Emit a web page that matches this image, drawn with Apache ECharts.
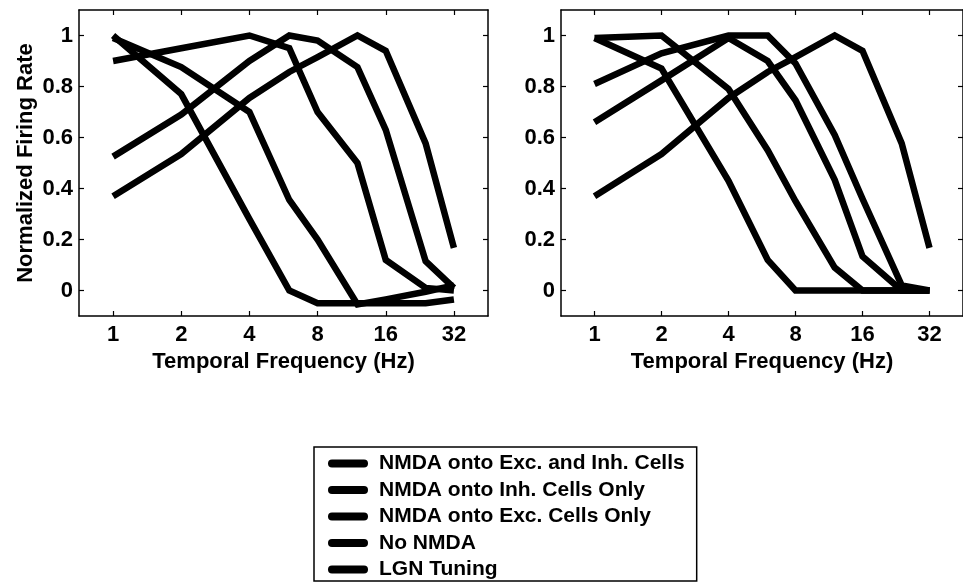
<!DOCTYPE html>
<html>
<head>
<meta charset="utf-8">
<script src="https://cdn.jsdelivr.net/npm/echarts@6/dist/echarts.min.js"></script>
<style>
  html, body { margin: 0; padding: 0; background: #fff; }
  #chart { width: 963px; height: 584px; }
</style>
</head>
<body>
<div id="chart"></div>
<script>
// Stimulus temporal frequencies (Hz) at which each tuning curve is sampled
const freqHz = [1, 2, 4, 6, 8, 12, 16, 24, 32];
const freqTicks = [1, 2, 4, 8, 16, 32];
const rateTicks = [0, 0.2, 0.4, 0.6, 0.8, 1];

const seriesNames = [
  'NMDA onto Exc. and Inh. Cells',
  'NMDA onto Inh. Cells Only',
  'NMDA onto Exc. Cells Only',
  'No NMDA',
  'LGN Tuning'
];

// Left panel: normalized firing rates
const leftExcInh = [1.0, 0.77, 0.28, 0.0, -0.05, -0.05, -0.05, -0.05, -0.035];
const leftInh    = [0.99, 0.876, 0.70, 0.355, 0.2, -0.055, -0.035, -0.005, 0.02];
const leftExc    = [0.9, 0.95, 1.0, 0.95, 0.70, 0.50, 0.12, 0.01, 0.0];
const leftNone   = [0.525, 0.69, 0.90, 1.0, 0.98, 0.876, 0.63, 0.115, 0.01];

// Right panel: normalized firing rates
const rightExcInh = [0.99, 0.87, 0.43, 0.12, 0.0, 0.0, 0.0, 0.0, 0.0];
const rightInh    = [0.99, 1.0, 0.79, 0.55, 0.35, 0.09, 0.0, 0.0, 0.0];
const rightExc    = [0.81, 0.93, 1.0, 1.0, 0.89, 0.61, 0.36, 0.02, 0.0];
const rightNone   = [0.66, 0.824, 0.99, 0.9, 0.746, 0.434, 0.134, 0.0, 0.0];

// LGN input tuning (same in both panels)
const lgnTuning = [0.37, 0.535, 0.755, 0.857, 0.915, 1.0, 0.94, 0.577, 0.167];

const FONT = "'Liberation Sans', Arial, Helvetica, sans-serif";
const octaveTicks = freqTicks.map(Math.log2);

const textBold = { color: '#000', fontSize: 22, fontWeight: 'bold', fontFamily: FONT };
const boxLine = { color: '#000', width: 1.5 };
const tickLine = { color: '#000', width: 1.2 };

function xAxisPair(gridIndex) {
  return [
    {
      type: 'value', gridIndex, position: 'bottom', min: -0.5, max: 5.5,
      axisLine: { onZero: false, lineStyle: boxLine },
      axisTick: { inside: true, length: 5, customValues: octaveTicks, lineStyle: tickLine },
      axisLabel: {
        customValues: octaveTicks, margin: 8,
        formatter: v => String(Math.round(Math.pow(2, v))),
        ...textBold
      },
      splitLine: { show: false },
      name: 'Temporal Frequency (Hz)', nameLocation: 'middle', nameGap: 25,
      nameTextStyle: textBold
    },
    {
      type: 'value', gridIndex, position: 'top', min: -0.5, max: 5.5,
      axisLine: { onZero: false, lineStyle: boxLine },
      axisTick: { inside: true, length: 5, customValues: octaveTicks, lineStyle: tickLine },
      axisLabel: { show: false },
      splitLine: { show: false }
    }
  ];
}

function yAxisPair(gridIndex, withLabels) {
  return [
    {
      type: 'value', gridIndex, position: 'left', min: -0.1, max: 1.1,
      axisLine: { onZero: false, lineStyle: boxLine },
      axisTick: { inside: true, length: 5, customValues: rateTicks, lineStyle: tickLine },
      axisLabel: {
        customValues: rateTicks, margin: 6,
        formatter: v => String(v),
        ...textBold
      },
      splitLine: { show: false },
      name: withLabels ? 'Normalized Firing Rate' : '',
      nameLocation: 'middle', nameGap: 42,
      nameTextStyle: textBold
    },
    {
      type: 'value', gridIndex, position: 'right', min: -0.1, max: 1.1,
      axisLine: { onZero: false, lineStyle: boxLine },
      axisTick: { inside: true, length: 5, customValues: rateTicks, lineStyle: tickLine },
      axisLabel: { show: false },
      splitLine: { show: false }
    }
  ];
}

function curve(name, values, xIdx, yIdx) {
  return {
    name, type: 'line',
    xAxisIndex: xIdx, yAxisIndex: yIdx,
    data: freqHz.map((f, i) => [Math.log2(f), values[i]]),
    showSymbol: false, symbol: 'none',
    lineStyle: { color: '#000', width: 6.5, cap: 'butt', join: 'miter' },
    itemStyle: { color: '#000' },
    animation: false
  };
}

const leftSets = [leftExcInh, leftInh, leftExc, leftNone, lgnTuning];
const rightSets = [rightExcInh, rightInh, rightExc, rightNone, lgnTuning];

const series = [
  ...leftSets.map((vals, i) => curve(seriesNames[i], vals, 0, 0)),
  ...rightSets.map((vals, i) => curve(seriesNames[i], vals, 2, 2))
];

const chart = echarts.init(document.getElementById('chart'), null, { renderer: 'canvas' });
chart.setOption({
  animation: false,
  backgroundColor: '#fff',
  grid: [
    { left: 79, top: 10, width: 409, height: 306 },
    { left: 561, top: 10, width: 410, height: 306 }
  ],
  xAxis: [...xAxisPair(0), ...xAxisPair(1)],
  yAxis: [...yAxisPair(0, true), ...yAxisPair(1, false)],
  legend: {
    orient: 'vertical', left: 314, top: 447, height: 160,
    data: seriesNames,
    icon: 'path://M4,0 H36 A4,4 0 0 1 36,8 H4 A4,4 0 0 1 4,0 Z',
    itemWidth: 40, itemHeight: 8, itemGap: 5.5,
    padding: [6, 12, 1, 14],
    borderColor: '#000', borderWidth: 1.5,
    itemStyle: { color: '#000' },
    textStyle: {
      color: '#000', fontSize: 21, fontWeight: 'bold',
      fontFamily: FONT, padding: [0, 0, 0, 6]
    },
    selectedMode: false
  },
  series
});
</script>
</body>
</html>
